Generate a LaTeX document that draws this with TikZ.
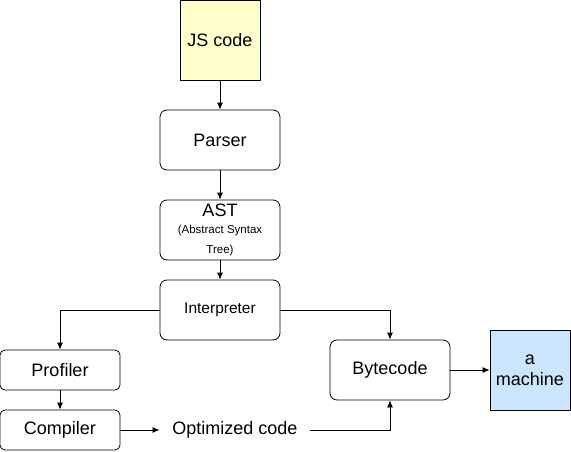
\documentclass[tikz,border=0pt]{standalone}
\usepackage{fontspec}
\setmainfont{Liberation Sans}
\usepackage{tikz}
\usetikzlibrary{arrows.meta,calc,positioning}
\tikzset{>={Latex[length=7pt,width=6pt]}}
\definecolor{jsyellow}{HTML}{FFFFCC}
\definecolor{machblue}{HTML}{CCE5FF}
\newcommand{\astsub}{\fontsize{11.5}{16.5}\selectfont}

\begin{document}
\begin{tikzpicture}[x=1pt,y=-1pt,line width=0.8pt,
    stage/.style={draw, rounded corners=7pt, minimum width=120pt, minimum height=60pt, inner sep=0pt, font=\fontsize{18}{20}\selectfont},
    smallstage/.style={stage, rounded corners=5pt, minimum height=40pt},
    square/.style={draw, minimum width=80pt, minimum height=80pt, inner sep=0pt, font=\fontsize{18}{21}\selectfont, align=center},
    flow/.style={->}]
                \useasboundingbox (0,0) rectangle (571,451);

                \node[square, fill=jsyellow] (js) at (220,40) {JS code};
                \node[stage] (parser) at (220,140) {Parser};
                \node[stage, align=center] (ast) at (220,230) {AST\\[-2.5pt]\astsub (Abstract Syntax\\\astsub Tree)};
                \node[stage, font=\fontsize{15.5}{18}\selectfont] (interp) at (220,310) {Interpreter};

                \node[smallstage] (profiler) at (60,370) {Profiler};
                \node[smallstage] (compiler) at (60,430) {Compiler};
                \node[minimum width=150pt, inner sep=0pt, font=\fontsize{18}{20}\selectfont] (opt) at (235,430) {Optimized code};

                \node[stage] (bytecode) at (390,370) {Bytecode};
                \node[square, fill=machblue] (machine) at (530,370) {a\\machine};

                \draw[flow] (js) -- (parser);
                \draw[flow] (parser) -- (ast);
                \draw[flow] (ast) -- (interp);
                \draw[flow] (interp.west) -| (profiler.north);
                \draw[flow] (interp.east) -| (bytecode.north);
                \draw[flow] (profiler) -- (compiler);
                \draw[flow] (compiler) -- (opt);
                \draw[flow] (opt.east) -| (bytecode.south);
                \draw[flow] (bytecode) -- (machine);
            \end{tikzpicture}
\end{document}
